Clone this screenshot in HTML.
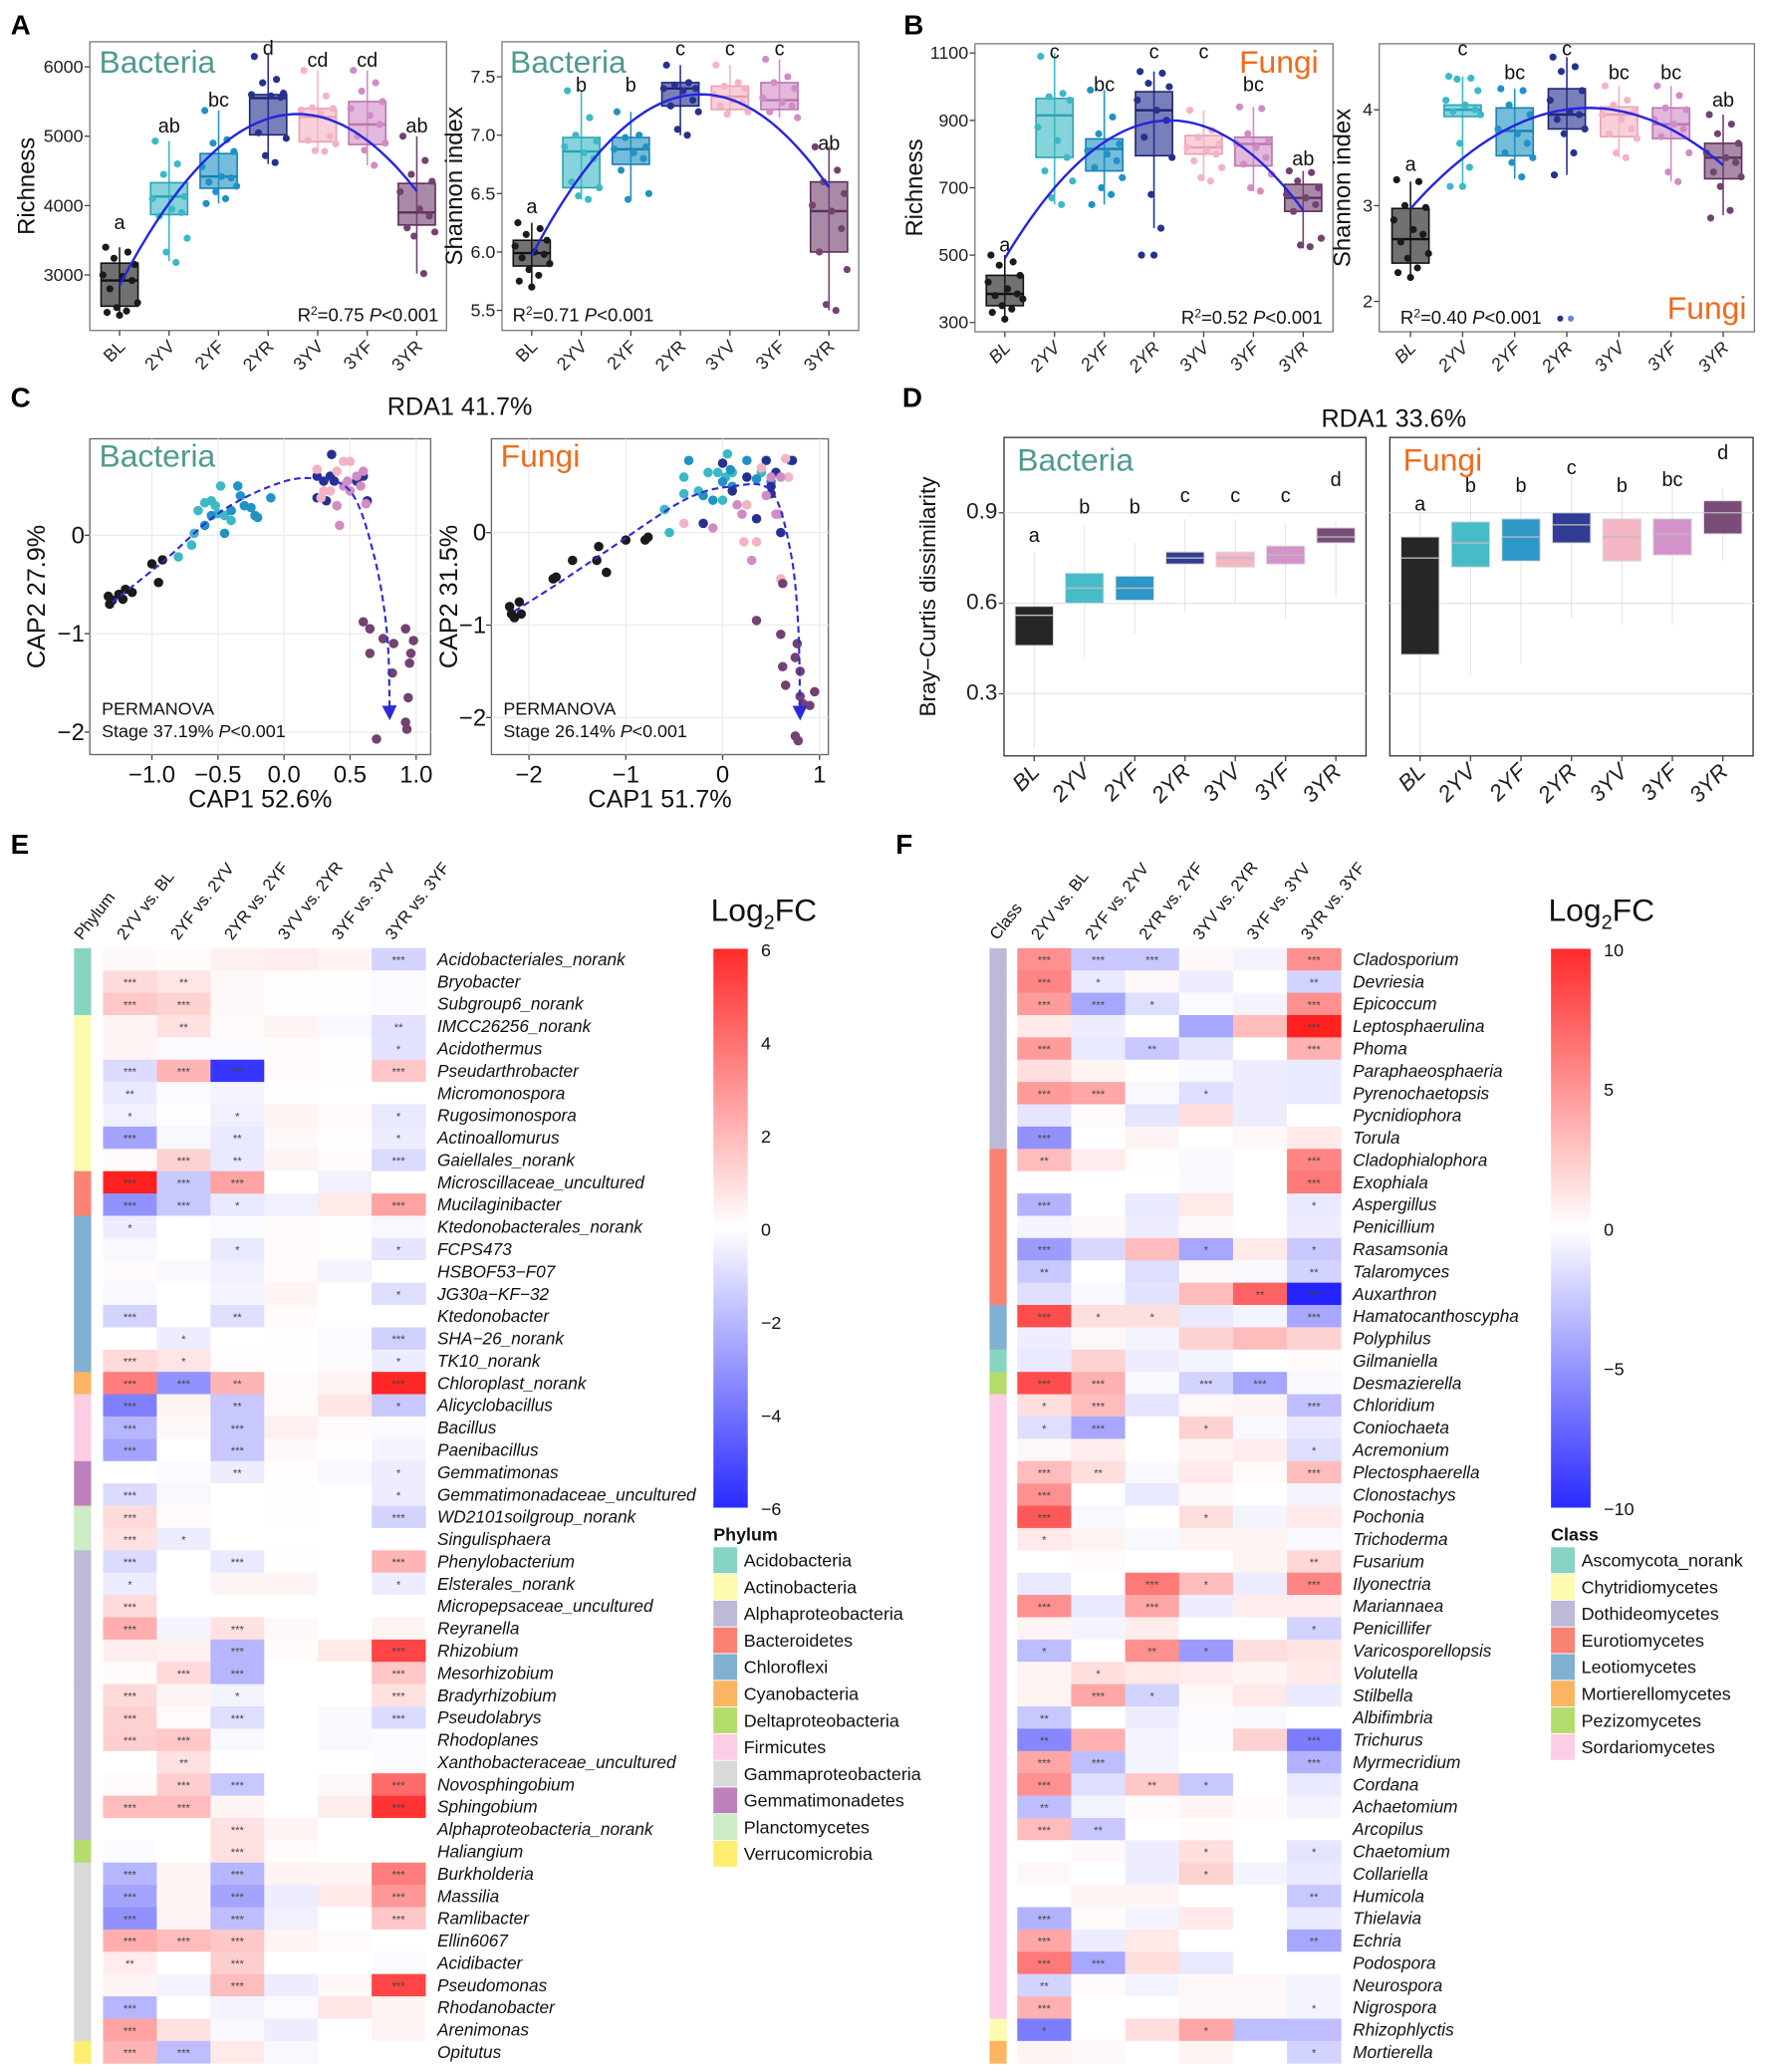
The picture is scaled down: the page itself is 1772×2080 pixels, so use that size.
<!DOCTYPE html>
<html><head><meta charset="utf-8"><style>
html,body{margin:0;padding:0;background:#fff;}
svg{display:block;font-family:"Liberation Sans",Arial,sans-serif;}
</style></head><body>
<svg id="fig" xmlns="http://www.w3.org/2000/svg" width="1772" height="2080" viewBox="0 0 1336 1568">
<defs>
<linearGradient id="gE" x1="0" y1="0" x2="0" y2="1"><stop offset="0" stop-color="#ff2a2a"/><stop offset="0.5" stop-color="#ffffff"/><stop offset="1" stop-color="#2a2aff"/></linearGradient>
<marker id="arr" viewBox="0 0 10 10" refX="8" refY="5" markerWidth="7" markerHeight="7" orient="auto"><path d="M0,0 L10,5 L0,10 z" fill="#2b2bd6"/></marker>
</defs>
</svg>
<script>
// ---------- DATA ----------
const cats=['BL','2YV','2YF','2YR','3YV','3YF','3YR'];
// A1 bacteria richness
const a1Q1=[2550,3870,4250,5020,4920,4880,3720];
const a1Med=[2920,4130,4420,5550,5280,5170,3900];
const a1Q3=[3170,4330,4750,5600,5400,5500,4320];
const a1Lo=[2450,3200,4030,4600,4780,4580,3020];
const a1Hi=[3400,4930,5370,6200,5950,5950,5000];
const a1Fit=[2850,4034,4835,5253,5288,4939,4207];
const a1Letters=['a','ab','bc','d','cd','cd','ab'];
const a1LetterY=[3756,5152,5526,6267,6100,6100,5152];
const a1Pts=[[3400,3330,3240,3150,3000,2980,2920,2800,2600,2530,2480,2460,2420],[4930,4600,4450,4130,4100,3950,3900,3850,3530,3330,3180],[5370,4950,4900,4780,4560,4420,4400,4340,4280,4200,4100,4030],[6150,5820,5770,5620,5600,5580,5560,5050,4970,4720,4620],[5950,5580,5410,5400,5380,5330,5000,4940,4890,4790,4780],[5950,5770,5650,5500,5400,5300,5170,5000,4900,4800,4580],[5000,4650,4450,4350,4200,3950,3850,3680,3620,3560,3020]];
// A2 bacteria shannon
const a2Q1=[5.88,6.55,6.75,7.25,7.22,7.22,6.0];
const a2Med=[5.99,6.86,6.88,7.40,7.33,7.30,6.35];
const a2Q3=[6.10,6.98,6.98,7.45,7.42,7.45,6.6];
const a2Lo=[5.70,6.45,6.45,7.0,7.18,7.15,5.5];
const a2Hi=[6.25,7.38,7.2,7.6,7.6,7.65,6.9];
const a2Fit=[5.97,6.66,7.11,7.33,7.31,7.05,6.55];
const a2Letters=['a','b','b','c','c','c','ab'];
const a2LetterY=[6.39,7.43,7.43,7.74,7.74,7.74,6.93];
const a2Pts=[[6.25,6.2,6.15,6.1,6.05,6.0,5.98,5.95,5.9,5.85,5.8,5.75,5.7],[7.38,7.15,7.0,6.95,6.9,6.85,6.8,6.6,6.55,6.48,6.45],[7.2,7.0,6.98,6.9,6.88,6.85,6.8,6.7,6.5,6.45],[7.6,7.45,7.43,7.4,7.4,7.38,7.3,7.25,7.2,7.05,7.0],[7.6,7.45,7.42,7.4,7.35,7.3,7.28,7.25,7.2,7.18],[7.65,7.5,7.45,7.4,7.32,7.28,7.25,7.2,7.15],[6.9,6.7,6.6,6.5,6.4,6.35,6.2,6.0,5.85,5.55,5.5]];
// B1 fungi richness
const b1Q1=[350,790,750,795,800,765,630];
const b1Med=[385,915,815,930,820,830,670];
const b1Q3=[440,965,845,985,855,850,710];
const b1Lo=[310,650,650,580,720,690,520];
const b1Hi=[500,1100,990,1045,930,940,750];
const b1Fit=[490,700,835,896,883,795,633];
const b1Letters=['a','c','bc','c','c','bc','ab'];
const b1LetterY=[531,1104,1006,1104,1104,1006,786];
const b1Pts=[[500,480,470,440,420,400,385,380,370,350,340,330,310],[1090,980,970,960,880,840,790,750,720,670,650],[990,910,860,830,810,800,780,760,730,700,680,650],[1045,1040,1010,1000,960,930,900,850,790,680,580,500,500],[930,870,850,830,820,810,800,780,760,730,720],[940,935,860,840,830,820,790,770,740,700,690],[750,745,720,700,680,670,650,630,550,530,525]];
// B2 fungi shannon
const b2Q1=[2.4,3.93,3.52,3.8,3.72,3.7,3.28];
const b2Med=[2.65,4.0,3.78,3.95,3.95,3.85,3.5];
const b2Q3=[2.97,4.05,4.02,4.22,4.03,4.02,3.65];
const b2Lo=[2.25,3.2,3.28,3.32,3.5,3.25,2.9];
const b2Hi=[3.25,4.35,4.22,4.55,4.25,4.25,3.95];
const b2Fit=[2.97,3.49,3.84,4.0,3.99,3.80,3.42];
const b2Letters=['a','c','bc','c','bc','bc','ab'];
const b2LetterY=[3.43,4.64,4.39,4.64,4.39,4.39,4.1];
const b2Pts=[[3.27,3.25,3.0,2.98,2.85,2.75,2.7,2.62,2.5,2.45,2.35,2.3,2.25],[4.35,4.33,4.32,4.2,4.1,4.05,4.0,3.98,3.95,3.65,3.4,3.2,3.2],[4.22,4.2,4.05,3.95,3.8,3.75,3.65,3.55,3.5,3.45,3.3],[4.55,4.45,4.4,4.2,4.1,3.98,3.95,3.9,3.8,3.75,3.55,3.32],[4.25,4.1,4.05,3.98,3.95,3.9,3.8,3.75,3.7,3.55,3.5],[4.25,4.15,4.02,4.0,3.9,3.85,3.8,3.72,3.55,3.35,3.25],[3.95,3.85,3.75,3.65,3.55,3.5,3.45,3.35,3.3,3.2,2.95,2.87]];
// D Bray-Curtis
const d1Q1=[0.46,0.60,0.61,0.73,0.72,0.73,0.80];
const d1Med=[0.56,0.65,0.65,0.75,0.75,0.76,0.82];
const d1Q3=[0.59,0.70,0.69,0.77,0.77,0.79,0.85];
const d1Lo=[0.12,0.42,0.50,0.57,0.60,0.55,0.62];
const d1Hi=[0.77,0.86,0.80,0.88,0.88,0.86,0.87];
const d1Letters=['a','b','b','c','c','c','d'];
const d1LetterY=[0.825,0.92,0.92,0.957,0.957,0.957,1.01];
const d2Q1=[0.43,0.72,0.74,0.80,0.74,0.76,0.83];
const d2Med=[0.75,0.80,0.82,0.86,0.82,0.83,0.90];
const d2Q3=[0.82,0.87,0.88,0.90,0.88,0.88,0.94];
const d2Lo=[0.10,0.36,0.40,0.55,0.53,0.53,0.74];
const d2Hi=[0.90,1.0,0.98,1.02,0.98,0.99,0.98];
const d2Letters=['a','b','b','c','b','bc','d'];
const d2LetterY=[0.93,0.99,0.99,1.05,0.99,1.01,1.1];
// C ordination (CAP1, CAP2) per group
const c1X=[[-1.33,-1.32,-1.3,-1.25,-1.22,-1.15,-1.2,-1.0,-0.95,-0.92],[-0.7,-0.68,-0.65,-0.6,-0.55,-0.52,-0.5,-0.48,-0.45,-0.4,-0.8],[-0.6,-0.55,-0.45,-0.4,-0.35,-0.33,-0.3,-0.25,-0.22,-0.2,-0.1],[0.25,0.25,0.3,0.32,0.35,0.36,0.38,0.55,0.6,0.63],[0.25,0.3,0.35,0.4,0.45,0.5,0.28,0.4],[0.45,0.5,0.55,0.6,0.58,0.48,0.42,0.4,0.62],[0.6,0.65,0.65,0.75,0.83,0.82,0.92,0.98,0.96,0.95,0.94,0.92,0.93,0.7]];
const c1Y=[[-0.62,-0.7,-0.66,-0.6,-0.65,-0.58,-0.55,-0.29,-0.48,-0.25],[-0.1,0.02,0.25,0.33,0.35,0.3,0.22,0.5,0.2,0.15,-0.22],[0.1,0.2,0.02,0.25,0.5,0.4,0.3,0.28,0.2,0.18,0.38],[0.38,0.6,0.55,0.35,0.6,0.82,0.55,0.55,0.6,0.35],[0.67,0.45,0.45,0.65,0.75,0.75,0.38,0.3],[0.5,0.45,0.6,0.65,0.5,0.55,0.1,0.3,0.32],[-0.88,-0.95,-1.2,-1.05,-1.1,-1.4,-0.95,-1.07,-1.2,-1.3,-1.65,-1.9,-1.97,-2.07]];
const c1TrendX=[-1.3,-0.9,-0.5,-0.1,0.2,0.5,0.68,0.78,0.8];
const c1TrendY=[-0.68,-0.25,0.22,0.5,0.58,0.45,-0.2,-1.0,-1.85];
const c2X=[[-2.2,-2.18,-2.15,-2.1,-2.08,-1.75,-1.72,-1.55,-1.3,-1.28,-1.2,-1.0,-0.8,-0.77],[-0.6,-0.55,-0.4,-0.4,-0.25,-0.15,-0.05,0.0,0.03,0.05,0.1,0.4],[-0.35,-0.2,-0.1,0,0.08,0.1,0.25,0.35,0.5,0.7],[-0.2,0,0.1,0.25,0.35,0.45,0.5,0.55,0.6,0.72,0.5],[-0.4,0.2,0.25,0.22,0.35,0.4,0.65,0.68,0.6],[-0.1,0.15,0.2,0.3,0.45,0.5,0.55,0.58,0.6],[0.35,0.6,0.62,0.65,0.75,0.77,0.8,0.8,0.83,0.95,0.9,0.75,0.78,0.62]];
const c2Y=[[-0.8,-0.88,-0.92,-0.75,-0.88,-0.5,-0.48,-0.3,-0.3,-0.15,-0.43,-0.08,-0.08,-0.05],[0.25,0.0,0.42,0.6,0.45,0.65,0.65,0.35,0.6,0.85,0.65,0.65],[0.78,0.4,0.35,0.55,0.68,0.5,0.78,0.58,0.55,0.78],[0.1,0.75,0.45,0.6,0.15,0.78,0.42,0.65,0.0,0.78,0.5],[0.1,0.2,0.3,-0.1,-0.1,0.7,0.8,0.6,-0.5],[0.05,0.3,0.2,-0.3,0.4,0.6,0.2,0.2,0.6],[-0.95,-1.1,-1.45,-1.65,-1.35,-1.2,-1.5,-1.77,-1.85,-1.72,-1.87,-2.2,-2.25,-0.55]];
const c2TrendX=[-2.15,-1.7,-1.2,-0.4,0.1,0.5,0.7,0.78,0.8];
const c2TrendY=[-0.85,-0.55,-0.2,0.35,0.5,0.45,-0.2,-1.0,-2.0];
// E heatmap (bacteria genera)
const eNames=['Acidobacteriales_norank','Bryobacter','Subgroup6_norank','IMCC26256_norank','Acidothermus','Pseudarthrobacter','Micromonospora','Rugosimonospora','Actinoallomurus','Gaiellales_norank','Microscillaceae_uncultured','Mucilaginibacter','Ktedonobacterales_norank','FCPS473','HSBOF53\u2212F07','JG30a\u2212KF\u221232','Ktedonobacter','SHA\u221226_norank','TK10_norank','Chloroplast_norank','Alicyclobacillus','Bacillus','Paenibacillus','Gemmatimonas','Gemmatimonadaceae_uncultured','WD2101soilgroup_norank','Singulisphaera','Phenylobacterium','Elsterales_norank','Micropepsaceae_uncultured','Reyranella','Rhizobium','Mesorhizobium','Bradyrhizobium','Pseudolabrys','Rhodoplanes','Xanthobacteraceae_uncultured','Novosphingobium','Sphingobium','Alphaproteobacteria_norank','Haliangium','Burkholderia','Massilia','Ramlibacter','Ellin6067','Acidibacter','Pseudomonas','Rhodanobacter','Arenimonas','Opitutus'];
const eGroup=[0,0,0,1,1,1,1,1,1,1,3,3,4,4,4,4,4,4,4,5,7,7,7,9,9,10,10,2,2,2,2,2,2,2,2,2,2,2,2,2,6,8,8,8,8,8,8,8,8,11];
const eVals=[[0.2,0.1,0.4,0.5,0.3,-1.2],[1.0,0.7,0.2,0.05,0.05,-0.1],[1.5,1.2,0.2,0.05,0.05,-0.1],[0.3,0.8,0.1,0.3,-0.2,-0.8],[0.3,-0.1,-0.1,0.1,-0.05,-0.8],[-1.0,2.0,-5.5,0.1,0.05,1.5],[-0.6,-0.1,-0.3,0.05,0,0],[-0.4,-0.05,-0.4,0.3,0.1,-0.6],[-2.5,-0.2,-0.6,0.2,0.05,-0.5],[0.1,1.2,-0.6,0.3,0.1,-1.0],[6.0,-1.5,2.5,0,-0.4,0],[-3.0,-1.5,-0.6,-0.4,0.6,2.5],[-0.5,0,-0.1,0.1,0.05,-0.2],[-0.2,0,-0.6,0.1,0.05,-0.7],[0.1,-0.2,-0.4,0.1,-0.3,0],[-0.2,0,-0.3,0.3,0,-0.9],[-1.2,0,-0.9,0.1,0,0],[0,-0.5,0,0.05,-0.1,-1.3],[1.0,0.7,0.05,0.05,-0.1,-0.5],[3.5,-3.0,2.0,0.1,0.3,5.8],[-3.5,0.3,-1.5,0.1,0.7,-1.5],[-2.0,0.2,-1.5,0.4,0.1,-0.1],[-2.5,0,-1.5,0.2,0.05,-0.3],[0,-0.1,-0.5,0.05,-0.2,-0.5],[-1.0,-0.2,0,0.05,0,-0.5],[1.0,0.1,0,0.05,0,-1.2],[0.8,-0.5,0,0,0,0],[-1.0,0,-0.6,0.05,0,2.0],[-0.5,0,0.3,0.3,0,-0.5],[1.0,0,0,0,0,0],[2.2,-0.3,0.8,0.2,0,0.3],[0.5,0.4,-2.0,0.1,0.6,5.0],[0.1,1.0,-2.0,0,0,1.5],[1.0,0.3,-0.3,0,0,0.8],[1.2,0.1,-0.9,0,-0.2,-1.0],[1.3,1.5,-0.2,0,-0.2,-0.1],[0,0.8,0,0,0,-0.1],[0.1,1.3,-1.5,0,0.2,4.0],[1.8,1.8,0.3,0,0.5,5.5],[0,0,0.8,0.3,0,0],[-0.1,0,0.8,0.1,0,0],[-2.0,0.3,-2.0,0.3,0.3,3.5],[-2.5,0.3,-2.5,-0.5,0.6,2.8],[-3.0,0.3,-1.8,-0.4,0,1.5],[2.2,1.8,1.5,0.3,0.1,0],[0.5,0,1.3,0,0,-0.1],[0.3,-0.3,1.8,-0.5,0.2,5.0],[-2.0,0,-0.3,-0.1,0.7,0.3],[2.5,0.8,-0.2,-0.5,0,0.3],[2.0,-1.8,0.6,-0.2,0,0]];
const eStars=[['','','','','','***'],['***','**','','','',''],['***','***','','','',''],['','**','','','','**'],['','','','','','*'],['***','***','***','','','***'],['**','','','','',''],['*','','*','','','*'],['***','','**','','','*'],['','***','**','','','***'],['***','***','***','','',''],['***','***','*','','','***'],['*','','','','',''],['','','*','','','*'],['','','','','',''],['','','','','','*'],['***','','**','','',''],['','*','','','','***'],['***','*','','','','*'],['***','***','**','','','***'],['***','','**','','','*'],['***','','***','','',''],['***','','***','','',''],['','','**','','','*'],['***','','','','','*'],['***','','','','','***'],['***','*','','','',''],['***','','***','','','***'],['*','','','','','*'],['***','','','','',''],['***','','***','','',''],['','','***','','','***'],['','***','***','','','***'],['***','','*','','','***'],['***','','***','','','***'],['***','***','','','',''],['','**','','','',''],['','***','***','','','***'],['***','***','','','','***'],['','','***','','',''],['','','***','','',''],['***','','***','','','***'],['***','','***','','','***'],['***','','***','','','***'],['***','***','***','','',''],['**','','***','','',''],['','','***','','','***'],['***','','','','',''],['***','','','','',''],['***','***','','','','']];
const eLegend=['Acidobacteria','Actinobacteria','Alphaproteobacteria','Bacteroidetes','Chloroflexi','Cyanobacteria','Deltaproteobacteria','Firmicutes','Gammaproteobacteria','Gemmatimonadetes','Planctomycetes','Verrucomicrobia'];
const eTicks=[6,4,2,0,-2,-4,-6];
// F heatmap (fungal genera)
const fNames=['Cladosporium','Devriesia','Epicoccum','Leptosphaerulina','Phoma','Paraphaeosphaeria','Pyrenochaetopsis','Pycnidiophora','Torula','Cladophialophora','Exophiala','Aspergillus','Penicillium','Rasamsonia','Talaromyces','Auxarthron','Hamatocanthoscypha','Polyphilus','Gilmaniella','Desmazierella','Chloridium','Coniochaeta','Acremonium','Plectosphaerella','Clonostachys','Pochonia','Trichoderma','Fusarium','Ilyonectria','Mariannaea','Penicillifer','Varicosporellopsis','Volutella','Stilbella','Albifimbria','Trichurus','Myrmecridium','Cordana','Achaetomium','Arcopilus','Chaetomium','Collariella','Humicola','Thielavia','Echria','Podospora','Neurospora','Nigrospora','Rhizophlyctis','Mortierella'];
const fGroup=[2,2,2,2,2,2,2,2,2,3,3,3,3,3,3,3,4,4,0,6,7,7,7,7,7,7,7,7,7,7,7,7,7,7,7,7,7,7,7,7,7,7,7,7,7,7,7,7,1,5];
const fVals=[[5,-2.5,-2.5,0.3,-0.5,5],[5.5,-1,0.3,-0.8,0,-2],[4.5,-4,-1.5,-0.2,-0.5,5],[1,-0.8,0,-4,3,10],[4.5,-1,-2.5,-1.2,0,3.5],[1.5,0.5,0.1,-0.3,-0.8,-1],[4.5,4,-0.3,-1.5,-0.8,-1],[-1.2,0.2,-1.2,1.5,-0.8,0],[-5,0,0.5,0,0.3,1.0],[3,0.8,0.1,-0.3,0,5.5],[0,0,0,-0.3,0,6],[-3.5,0,-1,1,0,-1],[-0.5,0.3,-0.8,0.3,0,-0.8],[-4.5,-1.8,3,-4,1,-2.5],[-2.5,0,-1.5,0.3,-0.3,-2],[-1.5,-0.3,-1.3,3,7,-10],[8,1.5,1.5,-1,-0.5,-4],[-0.8,0.3,-0.5,2,3,2],[-1,2,-0.8,-0.5,0,0.2],[8,3.5,-0.3,-2,-4,-0.3],[1.5,3,-1.2,0.3,0.5,-3],[-1.5,-4,0,2,-0.3,-1],[0.3,0.8,0,0.5,0.8,-1.5],[3,1.5,-0.3,1,0.2,3],[5,0,-1,0.3,0,-0.5],[7.5,-0.3,0,1.5,-0.5,1],[1,0.5,-0.3,0.5,0.5,-0.3],[0,0.2,0,0,0.5,1.8],[-1,0,6,3,-0.8,5.5],[5,-1,4,-0.8,0.8,0.8],[0.5,-0.5,0.8,0,0,-2],[-3,0,5,-4.5,1.5,1.2],[0.5,1.5,1,0.8,0.5,1],[0.5,4,-2,0.3,1,-1],[-2.5,0,-0.8,-0.2,-0.3,0],[-5.5,3.5,-0.5,-0.2,2,-6],[4,-3,-0.5,0,0,-3.5],[5,-1.5,2.5,-2.5,0,-1],[-3,-0.5,0.2,0.5,0.2,-0.5],[3,-2.5,0,0.2,0,0],[0,0.3,-0.8,1.5,0,-1.2],[0.3,0,-0.8,2,-0.5,-1],[0,0.5,0.5,0,0,-2.5],[-3.5,0.2,-0.5,1,0,-1],[4,-0.8,1,0,0,-4],[6,-4,1.5,-1,0,0],[-2,0.2,-0.5,0.3,0.3,-0.5],[3.5,0,0,0.3,0.3,-0.5],[-6,0,1.5,4,-3,-3],[0.5,0.3,0,0.5,0,-2]];
const fStars=[['***','***','***','','','***'],['***','*','','','','**'],['***','***','*','','','***'],['','','','','','***'],['***','','**','','','***'],['','','','','',''],['***','***','','*','',''],['','','','','',''],['***','','','','',''],['**','','','','','***'],['','','','','','***'],['***','','','','','*'],['','','','','',''],['***','','','*','','*'],['**','','','','','**'],['','','','','**','***'],['***','*','*','','','***'],['','','','','',''],['','','','','',''],['***','***','','***','***',''],['*','***','','','','***'],['*','***','','*','',''],['','','','','','*'],['***','**','','','','***'],['***','','','','',''],['***','','','*','',''],['*','','','','',''],['','','','','','**'],['','','***','*','','***'],['***','','***','','',''],['','','','','','*'],['*','','**','*','',''],['','*','','','',''],['','***','*','','',''],['**','','','','',''],['**','','','','','***'],['***','***','','','','***'],['***','','**','*','',''],['**','','','','',''],['***','**','','','',''],['','','','*','','*'],['','','','*','',''],['','','','','','**'],['***','','','','',''],['***','','','','','**'],['***','***','','','',''],['**','','','','',''],['***','','','','','*'],['*','','','*','',''],['','','','','','*']];
const fLegend=['Ascomycota_norank','Chytridiomycetes','Dothideomycetes','Eurotiomycetes','Leotiomycetes','Mortierellomycetes','Pezizomycetes','Sordariomycetes'];
const fTicks=[10,5,0,-5,-10];
const cmpLabels=['2YV vs. BL','2YF vs. 2YV','2YR vs. 2YF','3YV vs. 2YR','3YF vs. 3YV','3YR vs. 3YF'];

// ---------- STYLE ----------
const gCol=['#1a1a1a','#3cb8c6','#2192c4','#26318f','#f4b3c2','#d18cc6','#734271'];
const gDark=['#111','#2aa3b2','#1681b3','#1b2570','#e6a0b0','#b974ae','#5c3059'];
const setE=['#88d4c3','#fdfbb0','#bcb9d9','#f98272','#80b0d2','#fbb462','#b4dc6c','#fccde4','#d9d9d9','#bd80bd','#cdebc4','#ffed6f'];
const setF=['#88d4c3','#fdfbb0','#bcb9d9','#f98272','#80b0d2','#fbb462','#b4dc6c','#fccde4'];
const jit=[-10,6,-4,11,-12,2,9,-7,13,-2,5,-9,0];

const NS='http://www.w3.org/2000/svg';
const svg=document.getElementById('fig');
function mk(tag,attrs,name,parent,inter){
  const e=document.createElementNS(NS,tag);
  for(const k in attrs)e.setAttribute(k,attrs[k]);
  
  
  (parent||svg).appendChild(e);return e;
}
function txt(x,y,s,attrs,name,parent){const e=mk('text',Object.assign({x:x,y:y},attrs),name,parent);e.textContent=s;return e;}
function grp(name){return mk('g',{},name);}

[['A',8,26],['B',684,26],['C',8,308],['D',683,308],['E',8,646],['F',678,646]].forEach(p=>{
  txt(p[1],p[2],p[0],{'font-size':21,'font-weight':'bold',fill:'#000'},'panel-label-'+p[0].toLowerCase());
});

function fitQuad(vals){
  let S=[0,0,0,0,0],T=[0,0,0];
  vals.forEach((v,i)=>{for(let k=0;k<5;k++)S[k]+=Math.pow(i,k);for(let k=0;k<3;k++)T[k]+=v*Math.pow(i,k);});
  const M=[[S[0],S[1],S[2],T[0]],[S[1],S[2],S[3],T[1]],[S[2],S[3],S[4],T[2]]];
  for(let i=0;i<3;i++){for(let j=i+1;j<3;j++){const f=M[j][i]/M[i][i];for(let k=i;k<4;k++)M[j][k]-=f*M[i][k];}}
  const c=[0,0,0];for(let i=2;i>=0;i--){let s=M[i][3];for(let k=i+1;k<3;k++)s-=M[i][k]*c[k];c[i]=s/M[i][i];}
  return t=>c[0]+c[1]*t+c[2]*t*t;
}

function boxPanel(o){
  const g=grp(o.name);
  const w=o.x1-o.x0;const step=w/7.2;
  const X=i=>o.x0+(i+0.6)*step;
  const Y=v=>o.ty+(o.tv-v)*o.k;
  mk('rect',{x:o.x0,y:o.y0,width:w,height:o.y1-o.y0,fill:'#fff',stroke:o.frame||'#7a7a7a','stroke-width':1},o.name+'-frame',g);
  if(o.grid){o.ticks.forEach(t=>{mk('line',{x1:o.x0,x2:o.x1,y1:Y(t),y2:Y(t),stroke:'#e6e6e6','stroke-width':1},'gridline',g);});}
  if(o.showTicks!==false){o.ticks.forEach(t=>{
    mk('line',{x1:o.x0-4,x2:o.x0,y1:Y(t),y2:Y(t),stroke:'#444'},'y-tick',g);
    txt(o.x0-5,Y(t)+4.5,o.tickFmt?o.tickFmt(t):String(t),{'font-size':o.tfs||13.5,'text-anchor':'end',fill:'#222'},'y-tick-label',g);
  });}
  if(o.ylab){const yc=(o.y0+o.y1)/2;txt(o.ylabX,yc,o.ylab,{'font-size':o.ylfs||18,'text-anchor':'middle',transform:'rotate(-90 '+o.ylabX+' '+yc+')',fill:'#111'},'y-axis-title',g);}
  cats.forEach((c,i)=>{
    mk('line',{x1:X(i),x2:X(i),y1:o.y1,y2:o.y1+4,stroke:'#444'},'x-tick',g);
    const lx=X(i)+5,ly=o.y1+13;
    txt(lx,ly,c,{'font-size':o.xfs||13.5,'text-anchor':'end',transform:'rotate(-45 '+lx+' '+ly+')','font-style':o.xitalic?'italic':'normal',fill:'#222'},'x-tick-label-'+c,g);
  });
  const bw=o.bw||28;
  cats.forEach((c,i)=>{
    const wc=o.solid?'#cfcfcf':gCol[i];
    mk('line',{x1:X(i),x2:X(i),y1:Y(o.hi[i]),y2:Y(o.lo[i]),stroke:wc,'stroke-width':o.solid?0.8:1.2,opacity:o.solid?0.6:1},'whisker-'+c,g);
    mk('rect',{x:X(i)-bw/2,y:Y(o.q3[i]),width:bw,height:Y(o.q1[i])-Y(o.q3[i]),fill:gCol[i],'fill-opacity':o.solid?0.95:0.62,stroke:o.solid?'#ddd':gDark[i],'stroke-width':o.solid?0.8:1.2},'box-'+c,g);
    mk('line',{x1:X(i)-bw/2,x2:X(i)+bw/2,y1:Y(o.med[i]),y2:Y(o.med[i]),stroke:o.solid?'#bbb':gDark[i],'stroke-width':o.solid?1:1.8},'median-'+c,g);
    if(o.pts){o.pts[i].forEach((v,j)=>{
      mk('circle',{cx:X(i)+jit[j%jit.length]*1.05,cy:Y(v),r:2.7,fill:gCol[i]},'point-'+c,g);
    });}
    txt(X(i),Y(o.letY[i])+5,o.letters[i],{'font-size':15,'text-anchor':'middle',fill:'#111'},'letter-'+c,g);
  });
  if(o.fit){const f=fitQuad(o.fit);let d='';for(let t=0;t<=6.0001;t+=0.1){d+=(t===0?'M':'L')+X(t).toFixed(1)+','+Y(f(t)).toFixed(1);}
    mk('path',{d:d,fill:'none',stroke:'#2424e0','stroke-width':1.8},'fit-curve',g);}
  if(o.title){txt(o.title.x,o.title.y,o.title.s,{'font-size':o.title.fs||24,fill:o.title.c,'text-anchor':o.title.anchor||'start'},'taxon-title',g);}
  if(o.r2){const t=txt(o.r2.x,o.r2.y,'',{'font-size':14,'text-anchor':o.r2.anchor,fill:'#111'},'r2-annotation',g);
    t.innerHTML='R<tspan dy="-5" font-size="9">2</tspan><tspan dy="5">='+o.r2.v+' </tspan><tspan font-style="italic">P</tspan>&lt;0.001';}
  return {g,X,Y};
}

boxPanel({name:'panel-a-richness',x0:68,x1:338,y0:31.5,y1:250,ty:50.5,tv:6000,k:0.0525,ticks:[3000,4000,5000,6000],
 q1:a1Q1,med:a1Med,q3:a1Q3,lo:a1Lo,hi:a1Hi,pts:a1Pts,fit:a1Fit,letters:a1Letters,letY:a1LetterY,
 ylab:'Richness',ylabX:26,title:{x:75,y:55,s:'Bacteria',c:'#4f9a8f'},r2:{x:332,y:243,anchor:'end',v:'0.75'}});
boxPanel({name:'panel-a-shannon',x0:380,x1:650,y0:31.5,y1:250,ty:58,tv:7.5,k:88.4,ticks:[5.5,6.0,6.5,7.0,7.5],tickFmt:t=>t.toFixed(1),
 q1:a2Q1,med:a2Med,q3:a2Q3,lo:a2Lo,hi:a2Hi,pts:a2Pts,fit:a2Fit,letters:a2Letters,letY:a2LetterY,
 ylab:'Shannon index',ylabX:350,title:{x:386,y:55,s:'Bacteria',c:'#4f9a8f'},r2:{x:388,y:243,anchor:'start',v:'0.71'}});
boxPanel({name:'panel-b-richness',x0:738,x1:1009,y0:33,y1:251,ty:40,tv:1100,k:0.255,ticks:[300,500,700,900,1100],
 q1:b1Q1,med:b1Med,q3:b1Q3,lo:b1Lo,hi:b1Hi,pts:b1Pts,fit:b1Fit,letters:b1Letters,letY:b1LetterY,xitalic:true,
 ylab:'Richness',ylabX:698,title:{x:998,y:55,s:'Fungi',c:'#f06a1c',anchor:'end'},r2:{x:1001,y:245,anchor:'end',v:'0.52'}});
boxPanel({name:'panel-b-shannon',x0:1044,x1:1328,y0:33,y1:251,ty:83,tv:4,k:72.5,ticks:[2,3,4],
 q1:b2Q1,med:b2Med,q3:b2Q3,lo:b2Lo,hi:b2Hi,pts:b2Pts,fit:b2Fit,letters:b2Letters,letY:b2LetterY,xitalic:true,
 ylab:'Shannon index',ylabX:1022,title:{x:1322,y:241,s:'Fungi',c:'#f06a1c',anchor:'end'},r2:{x:1060,y:245,anchor:'start',v:'0.40'}});
mk('circle',{cx:1181,cy:241,r:2.3,fill:'#26318f'},'legend-dot-dark',svg);
mk('circle',{cx:1189,cy:241,r:2.3,fill:'#6f7fd6'},'legend-dot-light',svg);

txt(1055,323,'RDA1 33.6%',{'font-size':19,'text-anchor':'middle',fill:'#111'},'panel-d-title');
boxPanel({name:'panel-d-bacteria',x0:760,x1:1034,y0:331,y1:572,ty:388,tv:0.9,k:228.3,ticks:[0.3,0.6,0.9],tickFmt:t=>t.toFixed(1),grid:true,solid:true,frame:'#333',tfs:17,
 q1:d1Q1,med:d1Med,q3:d1Q3,lo:d1Lo,hi:d1Hi,letters:d1Letters,letY:d1LetterY,xitalic:true,xfs:17,bw:29,
 ylab:'Bray\u2212Curtis dissimilarity',ylabX:708,ylfs:17,title:{x:770,y:356,s:'Bacteria',c:'#4f9a8f'}});
boxPanel({name:'panel-d-fungi',x0:1052,x1:1327,y0:331,y1:572,ty:388,tv:0.9,k:228.3,ticks:[0.3,0.6,0.9],grid:true,solid:true,frame:'#333',showTicks:false,
 q1:d2Q1,med:d2Med,q3:d2Q3,lo:d2Lo,hi:d2Hi,letters:d2Letters,letY:d2LetterY,xitalic:true,xfs:17,bw:29,
 title:{x:1062,y:356,s:'Fungi',c:'#f06a1c'}});

txt(348,314,'RDA1 41.7%',{'font-size':19,'text-anchor':'middle',fill:'#111'},'panel-c-title');
function scatterPanel(o){
  const g=grp(o.name);
  const X=v=>o.x0px+v*o.kx, Y=v=>o.y0px-v*o.ky;
  mk('rect',{x:o.bx0,y:o.by0,width:o.bx1-o.bx0,height:o.by1-o.by0,fill:'#fff',stroke:'#666'},o.name+'-frame',g);
  o.xt.forEach(t=>{mk('line',{x1:X(t),x2:X(t),y1:o.by0,y2:o.by1,stroke:'#ececec'},'v-grid',g);
    mk('line',{x1:X(t),x2:X(t),y1:o.by1,y2:o.by1+4,stroke:'#444'},'x-tick',g);
    txt(X(t),o.by1+21,o.xfmt(t),{'font-size':18,'text-anchor':'middle',fill:'#111'},'x-tick-label',g);});
  o.yt.forEach(t=>{mk('line',{x1:o.bx0,x2:o.bx1,y1:Y(t),y2:Y(t),stroke:'#ececec'},'h-grid',g);
    mk('line',{x1:o.bx0-4,x2:o.bx0,y1:Y(t),y2:Y(t),stroke:'#444'},'y-tick',g);
    txt(o.bx0-4,Y(t)+6,String(t).replace('-','\u2212'),{'font-size':18,'text-anchor':'end',fill:'#111'},'y-tick-label',g);});
  o.xs.forEach((arr,gi)=>{arr.forEach((v,j)=>{mk('circle',{cx:X(v),cy:Y(o.ys[gi][j]),r:3.6,fill:gCol[gi]},'point-'+cats[gi],g);});});
  const P=o.tx.map((v,i)=>[X(v),Y(o.ty[i])]);let d='M'+P[0][0]+','+P[0][1];
  for(let i=0;i<P.length-1;i++){const p0=P[Math.max(0,i-1)],p1=P[i],p2=P[i+1],p3=P[Math.min(P.length-1,i+2)];
    d+=' C'+(p1[0]+(p2[0]-p0[0])/6)+','+(p1[1]+(p2[1]-p0[1])/6)+' '+(p2[0]-(p3[0]-p1[0])/6)+','+(p2[1]-(p3[1]-p1[1])/6)+' '+p2[0]+','+p2[1];}
  mk('path',{d:d,fill:'none',stroke:'#2b2bd6','stroke-width':1.6,'stroke-dasharray':'5,3','marker-end':'url(#arr)'},'trend-arrow',g);
  txt(o.tt.x,353,o.tt.s,{'font-size':24,fill:o.tt.c},'taxon-title',g);
  txt(o.bx0+9,541,'PERMANOVA',{'font-size':13.5,fill:'#111'},'permanova-label',g);
  const s=txt(o.bx0+9,558,'',{'font-size':13.5,fill:'#111'},'permanova-stat',g);
  s.innerHTML='Stage '+o.stat+'% <tspan font-style="italic">P</tspan>&lt;0.001';
  const yc=(o.by0+o.by1)/2;
  txt(o.ylx,yc,o.ylab,{'font-size':19,'text-anchor':'middle',transform:'rotate(-90 '+o.ylx+' '+yc+')',fill:'#111'},'y-axis-title',g);
  txt((o.bx0+o.bx1)/2,611,o.xlab,{'font-size':19,'text-anchor':'middle',fill:'#111'},'x-axis-title',g);
}
scatterPanel({name:'panel-c-bacteria',bx0:68,bx1:326,by0:332,by1:571,x0px:215,kx:100,y0px:405,ky:74.5,xt:[-1,-0.5,0,0.5,1],yt:[0,-1,-2],
 xfmt:t=>t.toFixed(1).replace('-','\u2212'),xs:c1X,ys:c1Y,tx:c1TrendX,ty:c1TrendY,tt:{x:75,s:'Bacteria',c:'#4f9a8f'},stat:'37.19',ylab:'CAP2 27.9%',ylx:34,xlab:'CAP1 52.6%'});
scatterPanel({name:'panel-c-fungi',bx0:372,bx1:627,by0:332,by1:571,x0px:547,kx:73.3,y0px:403,ky:70,xt:[-2,-1,0,1],yt:[0,-1,-2],
 xfmt:t=>String(t).replace('-','\u2212'),xs:c2X,ys:c2Y,tx:c2TrendX,ty:c2TrendY,tt:{x:379,s:'Fungi',c:'#f06a1c'},stat:'26.14',ylab:'CAP2 31.5%',ylx:346,xlab:'CAP1 51.7%'});

function heat(v,max){const t=Math.min(1,Math.abs(v)/max);
  if(v>=0){return 'rgb(255,'+Math.round(255-223*t)+','+Math.round(255-223*t)+')';}
  return 'rgb('+Math.round(255-219*t)+','+Math.round(255-219*t)+',255)';}
function heatPanel(o){
  const g=grp(o.name);const rh=16.88,top=717.5,cw=(o.cx1-o.cx0)/6;
  txt(o.barX+6,712,o.groupTitle,{'font-size':12.5,transform:'rotate(-52 '+(o.barX+6)+' 712)',fill:'#111'},'group-column-header',g);
  o.cmps.forEach((c,i)=>{const x=o.cx0+(i+0.5)*cw-4;
    txt(x,712,c,{'font-size':12.5,transform:'rotate(-52 '+x+' 712)',fill:'#111'},'column-header',g);});
  o.names.forEach((n,r)=>{const y=top+r*rh;
    mk('rect',{x:o.barX,y:y,width:13,height:rh+0.3,fill:o.pal[o.grp[r]]},'group-bar-cell',g);
    o.vals[r].forEach((v,c)=>{
      mk('rect',{x:o.cx0+c*cw,y:y,width:cw+0.3,height:rh+0.3,fill:heat(v,o.max)},'heat-cell',g);
      if(o.stars[r][c])txt(o.cx0+(c+0.5)*cw,y+rh/2+3.5,o.stars[r][c],{'font-size':8.5,'text-anchor':'middle',fill:'#444'},'significance-stars',g);
    });
    txt(o.cx1+9,y+rh/2+4.5,n,{'font-size':13,'font-style':'italic',fill:'#111'},'row-label',g);
  });
  const t=txt(o.cbX-2,697,'',{'font-size':24,fill:'#111'},'colorbar-title',g);
  t.innerHTML='Log<tspan dy="6" font-size="15">2</tspan><tspan dy="-6">FC</tspan>';
  mk('rect',{x:o.cbX,y:718,width:o.cbW,height:423,fill:'url(#gE)'},'colorbar',g);
  o.ticks.forEach(v=>{const y=930-v/o.max*211.5;
    txt(o.cbX+o.cbW+10,y+5,String(v).replace('-','\u2212'),{'font-size':13.5,fill:'#111'},'colorbar-tick-label',g);});
  txt(o.cbX,1166,o.legTitle,{'font-size':13.5,'font-weight':'bold',fill:'#111'},'legend-title',g);
  o.legend.forEach((l,i)=>{const y=1171+i*20.2;
    mk('rect',{x:o.cbX,y:y,width:18,height:19.5,fill:o.pal[i]},'legend-swatch',g);
    txt(o.cbX+23,y+14.5,l,{'font-size':13.5,fill:'#111'},'legend-entry',g);});
}
heatPanel({name:'panel-e-heatmap',barX:56,cx0:78,cx1:322,names:eNames,grp:eGroup,vals:eVals,stars:eStars,pal:setE,max:6,cmps:cmpLabels,
 groupTitle:'Phylum',cbX:540,cbW:26,ticks:eTicks,legTitle:'Phylum',legend:eLegend});
heatPanel({name:'panel-f-heatmap',barX:749,cx0:770,cx1:1015,names:fNames,grp:fGroup,vals:fVals,stars:fStars,pal:setF,max:10,cmps:cmpLabels,
 groupTitle:'Class',cbX:1174,cbW:30,ticks:fTicks,legTitle:'Class',legend:fLegend});
</script>
</body></html>
